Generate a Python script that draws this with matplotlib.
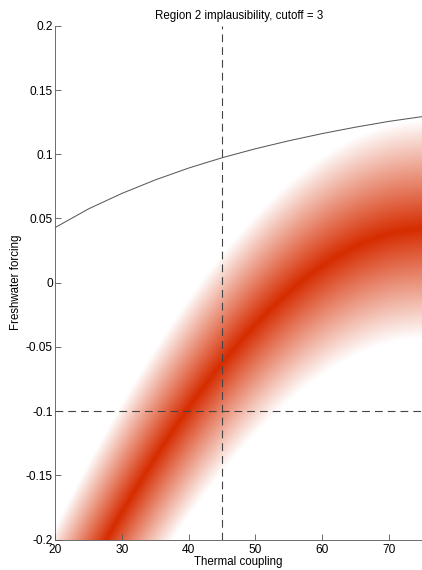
import numpy as np
import matplotlib
matplotlib.use("Agg")
import matplotlib.pyplot as plt
from matplotlib.colors import LinearSegmentedColormap

plt.rcParams['font.family'] = ['Liberation Sans', 'DejaVu Sans']

# thermal coupling grid where values were read
coupling = [20, 25, 30, 35, 40, 45, 50, 55, 60, 65, 70, 75]
# freshwater forcing that best matches region 2 (centre of red band)
band_centre = [-0.272, -0.227, -0.182, -0.138, -0.097, -0.058,
               -0.030, -0.007, 0.011, 0.0255, 0.036, 0.045]
# half width of the band where implausibility reaches the cutoff
band_halfwidth = 0.085
cutoff = 3

# black boundary curve
curve_x = [20, 25, 30, 35, 40, 45, 50, 55, 60, 65, 70, 75]
curve_y = [0.0431, 0.0576, 0.0696, 0.0801, 0.0893, 0.0973,
           0.1043, 0.1105, 0.1161, 0.1211, 0.1256, 0.1293]

ref_x = 45
ref_y = -0.1

# implausibility field
xs = np.linspace(20, 75, 600)
ys = np.linspace(-0.2, 0.2, 800)
X, Y = np.meshgrid(xs, ys)
coef = np.polyfit(coupling, band_centre, 3)
centre = np.polyval(coef, X)
sd = band_halfwidth / cutoff
impl = np.abs(Y - centre) / sd
shade = np.clip(1 - impl / cutoff, 0, 1)

cmap = LinearSegmentedColormap.from_list("reds", ["#ffffff", "#d62c00"])

fig = plt.figure(figsize=(4.22, 5.70), dpi=100)
ax = fig.add_axes([0.1315, 0.0535, 0.8685, 0.9011])
ax.imshow(shade, extent=[20, 75, -0.2, 0.2], origin='lower', aspect='auto',
          cmap=cmap, vmin=0, vmax=1, interpolation='bilinear', zorder=1)

ax.plot(curve_x, curve_y, color='#5a5a5a', lw=0.75, zorder=3)
ax.axvline(ref_x, color='#444444', lw=0.8, dashes=(7, 4.5), zorder=3)
ax.axhline(ref_y, color='#444444', lw=0.8, dashes=(7, 4.5), zorder=3)

ax.set_xlim(20, 75)
ax.set_ylim(-0.2, 0.2)
ax.set_xticks([20, 30, 40, 50, 60, 70])
ax.set_yticks([-0.2, -0.15, -0.1, -0.05, 0, 0.05, 0.1, 0.15, 0.2])
ax.set_yticklabels(['-0.2', '-0.15', '-0.1', '-0.05', '0', '0.05', '0.1', '0.15', '0.2'])
ax.tick_params(direction='in', length=4, width=0.6, color='#555555',
               labelsize=8.6)
ax.tick_params(axis='y', pad=2)
ax.tick_params(axis='x', pad=3.5)
for side in ['top', 'right']:
    ax.spines[side].set_visible(False)
for side in ['left', 'bottom']:
    ax.spines[side].set_color('#555555')
    ax.spines[side].set_linewidth(0.6)

ax.set_title("Region 2 implausibility, cutoff = 3", fontsize=8.3, pad=5)
ax.set_xlabel("Thermal coupling", fontsize=8.3, labelpad=0)
ax.set_ylabel("Freshwater forcing", fontsize=8.3, labelpad=3)

fig.savefig("out.png", dpi=100)
